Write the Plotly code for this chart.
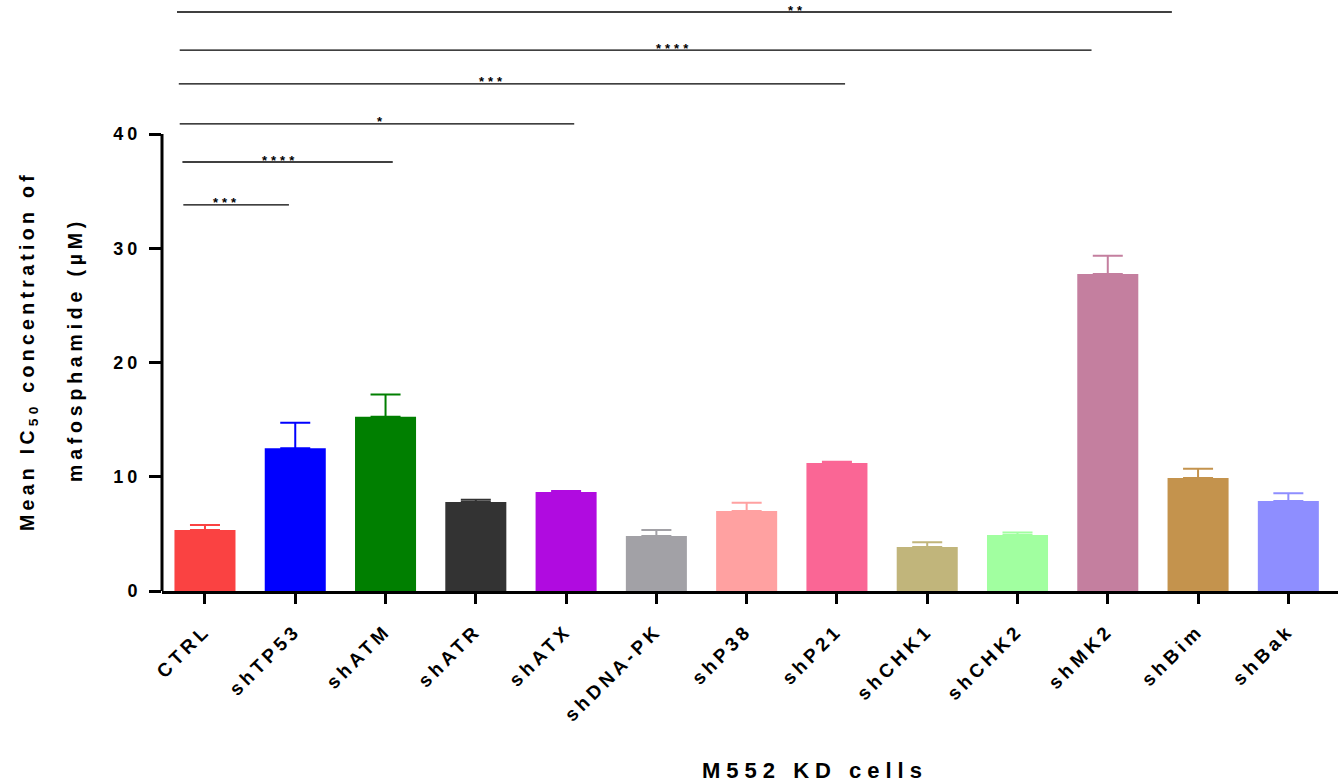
import plotly.graph_objects as go

# Knock-down lines and mean IC50 (µM) of mafosphamide with SEM
categories = ["CTRL", "shTP53", "shATM", "shATR", "shATX", "shDNA-PK", "shP38",
              "shP21", "shCHK1", "shCHK2", "shMK2", "shBim", "shBak"]
mean_ic50 = [5.34, 12.49, 15.26, 7.79, 8.67, 4.81, 7.00, 11.20, 3.85, 4.90, 27.75, 9.89, 7.88]
sem_ic50 = [0.44, 2.24, 1.93, 0.20, 0.08, 0.53, 0.73, 0.12, 0.41, 0.21, 1.60, 0.82, 0.67]
bar_colors = ["#FA4242", "#0000FF", "#007F00", "#333333", "#B00BE0", "#A2A1A6", "#FFA1A1",
              "#FA6695", "#C1B57B", "#A1FFA0", "#C47F9F", "#C4934D", "#8E8EFF"]

# Significance brackets (category units for x, µM for y)
sig_labels = ["**", "****", "***", "*", "****", "***"]
sig_y = [50.68, 47.35, 44.38, 40.88, 37.55, 33.79]
sig_x0 = [-0.31, -0.28, -0.29, -0.28, -0.25, -0.24]
sig_x1 = [10.71, 9.82, 7.09, 4.09, 2.08, 0.93]
sig_star_x = [6.56, 5.19, 3.18, 1.96, 0.83, 0.24]

y_ticks = [0, 10, 20, 30, 40]

FONT = "Liberation Sans, Arial, sans-serif"


def spaced(text, px):
    """Wrap text in a tspan with extra tracking between letters."""
    return f'<span style="letter-spacing:{px}px">{text}</span>'


fig = go.Figure()
for cat, m, s, c in zip(categories, mean_ic50, sem_ic50, bar_colors):
    fig.add_trace(go.Bar(
        x=[cat], y=[m], width=0.676,
        marker=dict(color=c, line=dict(width=0)),
        error_y=dict(type="data", array=[s], arrayminus=[0], symmetric=False,
                     color=c, thickness=2, width=15),
        showlegend=False,
    ))

# y axis spine stops at the top tick
fig.add_shape(type="line", xref="paper", yref="y", x0=0, x1=0, y0=0, y1=max(y_ticks),
              line=dict(color="black", width=3))

for lab, y, x0, x1, xs in zip(sig_labels, sig_y, sig_x0, sig_x1, sig_star_x):
    fig.add_shape(type="line", xref="x", yref="y", x0=x0, x1=x1, y0=y, y1=y,
                  line=dict(color="black", width=1.3))
    fig.add_annotation(x=xs, y=y, xref="x", yref="y", text=spaced(lab, 4), showarrow=False,
                       yanchor="middle", yshift=2,
                       font=dict(family=FONT, size=13, color="black", weight="bold"))

# Axis titles
fig.add_annotation(xref="paper", yref="paper", x=0, y=(591 - 351) / 591, xshift=-134,
                   text=spaced("Mean IC<sub>50</sub> concentration of", 4.3), textangle=-90,
                   showarrow=False, xanchor="center", yanchor="middle",
                   font=dict(family=FONT, size=19.5, color="black", weight="bold"))
fig.add_annotation(xref="paper", yref="paper", x=0, y=(591 - 350) / 591, xshift=-87,
                   text=spaced("mafosphamide (µM)", 4.8), textangle=-90, showarrow=False,
                   xanchor="center", yanchor="middle",
                   font=dict(family=FONT, size=19.5, color="black", weight="bold"))
fig.add_annotation(xref="paper", yref="paper", x=(815 - 162) / 1176, y=0, yshift=-179,
                   text=spaced("M552 KD cells", 6), showarrow=False,
                   xanchor="center", yanchor="middle",
                   font=dict(family=FONT, size=22, color="black", weight="bold"))

fig.update_layout(
    width=1343, height=784,
    margin=dict(l=162, r=5, t=0, b=193),
    paper_bgcolor="white", plot_bgcolor="white",
    barmode="overlay",
    font=dict(family=FONT, color="black"),
    xaxis=dict(
        type="category", range=[-0.476, 12.55],
        tickmode="array", tickvals=categories, ticktext=[spaced(c, 4) for c in categories],
        showline=True, linecolor="black", linewidth=3,
        ticks="outside", ticklen=10, tickwidth=3, tickcolor="black",
        tickangle=-45, ticklabelstandoff=8,
        tickfont=dict(family=FONT, size=19, color="black", weight="bold"),
        showgrid=False, zeroline=False,
    ),
    yaxis=dict(
        range=[0, 51.73], tickvals=y_ticks,
        ticktext=[spaced(str(v), 4) for v in y_ticks],
        showline=False,
        ticks="outside", ticklen=12, tickwidth=3, tickcolor="black",
        ticklabelstandoff=4,
        tickfont=dict(family=FONT, size=18, color="black", weight="bold"),
        showgrid=False, zeroline=False,
    ),
)

fig.write_html("out.html")
